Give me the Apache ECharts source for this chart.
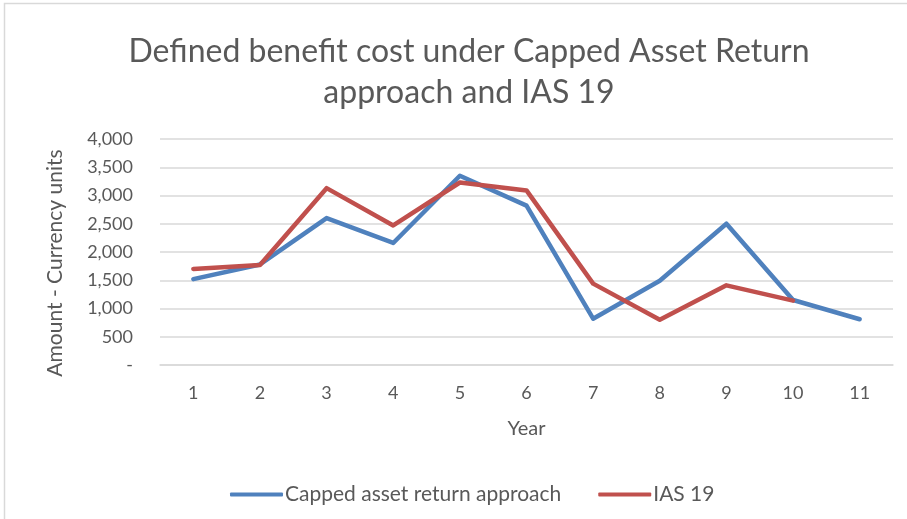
<!DOCTYPE html>
<html><head><meta charset="utf-8">
<script src="https://cdn.jsdelivr.net/npm/echarts@6/dist/echarts.min.js"></script>
<style>html,body{margin:0;padding:0;background:#fff}#c{width:907px;height:519px}</style>
</head><body><div id="c"></div>
<script>
const years = ['1','2','3','4','5','6','7','8','9','10','11'];
const capped = [1520, 1780, 2600, 2160, 3350, 2820, 820, 1490, 2500, 1150, 810];
const ias19 = [1700, 1770, 3130, 2470, 3230, 3090, 1440, 800, 1410, 1140, null];
const titleText = 'Defined benefit cost under Capped Asset Return\napproach and IAS 19';
const txt = '#595959';
const font = 'Lato, "Open Sans", sans-serif';
const chart = echarts.init(document.getElementById('c'));
chart.setOption({
  backgroundColor: '#fff',
  textStyle: {fontFamily: font},
  title: {text: titleText, left: 464, top: 26, textAlign: 'center',
    textStyle: {fontSize: 32, fontWeight: 'normal', color: txt, lineHeight: 41, fontFamily: font}},
  grid: {left: 160, right: 14, top: 139, bottom: 154, containLabel: false},
  xAxis: {type: 'category', data: years, boundaryGap: true,
    name: 'Year', nameLocation: 'middle', nameGap: 54,
    nameTextStyle: {fontSize: 20, color: txt, fontFamily: font},
    axisLine: {lineStyle: {color: '#d9d9d9', width: 1.5}},
    axisTick: {show: false},
    axisLabel: {fontSize: 18, color: txt, margin: 19, fontFamily: font}},
  yAxis: {type: 'value', min: 0, max: 4000, interval: 500,
    name: 'Amount - Currency units', nameLocation: 'middle', nameGap: 94,
    nameTextStyle: {fontSize: 21, color: txt, fontFamily: font, padding: [0, 22, 0, 0]},
    axisLine: {show: false}, axisTick: {show: false},
    splitLine: {lineStyle: {color: '#d9d9d9', width: 1.5}},
    axisLabel: {fontSize: 18, color: txt, margin: 27, fontFamily: font,
      formatter: v => v === 0 ? '-' : v.toLocaleString('en-US')}},
  legend: {top: 479, left: 225, itemGap: 37, itemWidth: 53, itemHeight: 4,
    icon: 'roundRect',
    textStyle: {fontSize: 21, color: txt, fontFamily: font, padding: [0,0,0,-3]},
    data: ['Capped asset return approach', 'IAS 19']},
  series: [
    {name: 'Capped asset return approach', type: 'line', data: capped, symbol: 'none',
     lineStyle: {color: '#4F81BD', width: 4.5, cap: 'round', join: 'round'}, itemStyle: {color: '#4F81BD'}},
    {name: 'IAS 19', type: 'line', data: ias19, symbol: 'none',
     lineStyle: {color: '#C0504D', width: 4.5, cap: 'round', join: 'round'}, itemStyle: {color: '#C0504D'}}
  ],
  graphic: [{type: 'rect', shape: {x: 4.5, y: 3.5, width: 920, height: 530},
    style: {fill: 'none', stroke: '#d9d9d9', lineWidth: 1.5}, silent: true}]
});
</script></body></html>
